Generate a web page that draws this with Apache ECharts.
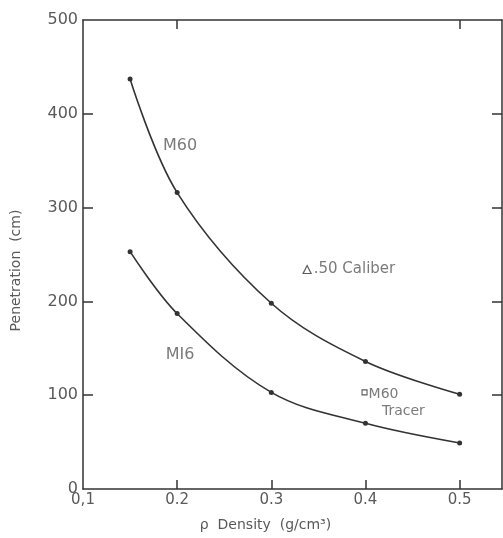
<!DOCTYPE html>
<html>
<head>
<meta charset="utf-8">
<script src="https://cdn.jsdelivr.net/npm/echarts@6/dist/echarts.min.js"></script>
<style>html,body{margin:0;padding:0;background:#fff}#c{width:503px;height:538px}</style>
</head>
<body>
<div id="c"></div>
<script>
// Data
const density = [0.15, 0.2, 0.3, 0.4, 0.5];
const m60 = [437, 316, 198, 136, 101];
const m16 = [253, 187, 103, 70, 49];
const cal50Point = [0.338, 234];
const tracerPoint = [0.399, 103];
const xTicks = [0.1, 0.2, 0.3, 0.4, 0.5];
const yTicks = [0, 100, 200, 300, 400, 500];
const curveLabels = [
  { name: 'M60', x: 0.203, y: 366 },
  { name: 'MI6', x: 0.203, y: 143 }
];

const ink = '#333';
const txt = '#595959';
const font = 'DejaVu Sans';

const chart = echarts.init(document.getElementById('c'), null, { renderer: 'canvas' });
chart.setOption({
  backgroundColor: '#fff',
  animation: false,
  textStyle: { fontFamily: font },
  grid: { left: 83, top: 20, right: 1, bottom: 49, show: false },
  xAxis: [{
    type: 'value', min: 0.1, max: 0.545,
    name: 'ρ  Density  (g/cm³)', nameLocation: 'middle', nameGap: 29,
    nameTextStyle: { color: txt, fontSize: 14, fontFamily: font, padding: [0, 54, 0, 0] },
    axisLine: { show: true, onZero: false, lineStyle: { color: ink, width: 1.5 } },
    axisTick: { show: true, inside: true, length: 9, customValues: xTicks.slice(1), lineStyle: { color: ink, width: 1.5 } },
    axisLabel: { color: txt, fontSize: 15, margin: 4, customValues: xTicks,
      formatter: v => v === 0.1 ? '0,1' : v.toFixed(1) },
    splitLine: { show: false }
  }, {
    type: 'value', min: 0.1, max: 0.545, position: 'top',
    axisLine: { show: true, onZero: false, lineStyle: { color: ink, width: 1.5 } },
    axisTick: { show: true, inside: true, length: 9, customValues: [0.2, 0.5], lineStyle: { color: ink, width: 1.5 } },
    axisLabel: { show: false }, splitLine: { show: false }
  }],
  yAxis: [{
    type: 'value', min: 0, max: 500, interval: 100,
    name: 'Penetration  (cm)', nameLocation: 'middle', nameGap: 60,
    nameTextStyle: { color: txt, fontSize: 14, fontFamily: font, padding: [0, 32, 0, 0] },
    axisLine: { show: true, onZero: false, lineStyle: { color: ink, width: 1.5 } },
    axisTick: { show: true, inside: true, length: 10, customValues: yTicks.slice(1, 5), lineStyle: { color: ink, width: 1.5 } },
    axisLabel: { color: txt, fontSize: 16, margin: 5, customValues: yTicks },
    splitLine: { show: false }
  }, {
    type: 'value', min: 0, max: 500, position: 'right',
    axisLine: { show: true, onZero: false, lineStyle: { color: ink, width: 1.5 } },
    axisTick: { show: true, inside: true, length: 10, customValues: [100, 200, 300, 400], lineStyle: { color: ink, width: 1.5 } },
    axisLabel: { show: false }, splitLine: { show: false }
  }],
  series: [
    {
      name: 'M60', type: 'line', smooth: 0.35,
      data: density.map((d, i) => [d, m60[i]]),
      symbol: 'circle', symbolSize: 5,
      lineStyle: { color: ink, width: 1.6 }, itemStyle: { color: ink }
    },
    {
      name: 'M16', type: 'line', smooth: 0.35,
      data: density.map((d, i) => [d, m16[i]]),
      symbol: 'circle', symbolSize: 5,
      lineStyle: { color: ink, width: 1.6 }, itemStyle: { color: ink }
    },
    {
      name: 'curve labels', type: 'scatter', symbol: 'circle', symbolSize: 2,
      itemStyle: { color: 'rgba(0,0,0,0)' },
      data: curveLabels.map(c => ({ value: [c.x, c.y], name: c.name })),
      label: { show: true, position: 'inside', formatter: p => p.name, color: txt, fontSize: 16 }
    },
    {
      name: '.50 Caliber', type: 'scatter', symbol: 'triangle', symbolSize: 8,
      data: [cal50Point],
      itemStyle: { color: '#fff', borderColor: ink, borderWidth: 1.2 },
      label: { show: true, position: 'right', distance: 2, formatter: '.50 Caliber', color: txt, fontSize: 15 }
    },
    {
      name: 'M60 Tracer', type: 'scatter', symbol: 'rect', symbolSize: 5,
      data: [tracerPoint],
      itemStyle: { color: '#fff', borderColor: ink, borderWidth: 1.1 },
      label: { show: true, position: 'right', distance: 1, align: 'left', verticalAlign: 'top', offset: [0, -7],
        formatter: 'M60\n   Tracer', color: txt, fontSize: 14, lineHeight: 17 }
    }
  ]
});
</script>
</body>
</html>
